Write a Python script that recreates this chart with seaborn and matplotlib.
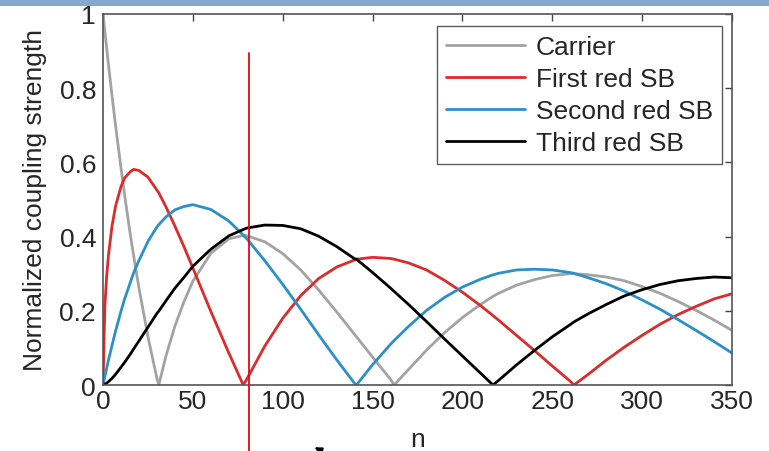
import pandas as pd
import seaborn as sns
import matplotlib.pyplot as plt
from matplotlib.patches import Rectangle

n = [0, 1, 2, 3, 5, 7, 10, 12, 15, 17, 20, 25, 30, 31, 35, 40, 45, 50, 60, 70, 78,
     80, 90, 100, 110, 120, 130, 140, 141, 150, 160, 162, 170, 180, 190, 200, 210,
     217, 220, 230, 240, 250, 260, 262, 270, 280, 290, 300, 310, 320, 330, 340, 350]

carrier = [1.0, .953, .908, .864, .779, .698, .584, .512, .411, .349, .261, .130,
           .017, 0.0, .078, .159, .224, .280, .355, .394, .403, .402, .386, .354,
           .310, .256, .197, .136, .130, .075, .015, 0.0, .042, .094, .141, .182,
           .217, .239, .247, .269, .284, .295, .300, .300, .297, .291, .281, .265,
           .247, .225, .201, .175, .147]

first_red = [0.0, .212, .292, .349, .429, .483, .535, .558, .574, .581, .578, .560,
             .525, .518, .480, .428, .373, .315, .198, .086, 0.0, .016, .105, .180,
             .241, .287, .318, .337, .339, .344, .341, .339, .329, .310, .282, .250,
             .214, .187, .175, .134, .093, .051, .010, 0.0, .029, .067, .102, .134,
             .164, .190, .212, .232, .246]

second_red = [0.0, .023, .045, .067, .107, .146, .199, .232, .274, .302, .336, .387,
              .426, .432, .453, .472, .481, .486, .473, .442, .404, .394, .335, .271,
              .204, .135, .068, .004, 0.0, .055, .110, .120, .158, .201, .236, .264,
              .285, .297, .301, .310, .312, .310, .303, .301, .289, .273, .253, .229,
              .204, .176, .147, .117, .086]

third_red = [0.0, .002, .005, .009, .018, .029, .048, .061, .082, .097, .119, .156,
             .193, .199, .227, .261, .290, .320, .366, .402, .419, .423, .431, .430,
             .421, .401, .373, .340, .339, .303, .261, .252, .217, .171, .124, .078,
             .032, 0.0, .012, .054, .093, .130, .163, .170, .192, .217, .240, .257,
             .271, .281, .287, .291, .289]

names = ["Carrier", "First red SB", "Second red SB", "Third red SB"]
colors = ["#a3a3a3", "#dc2b2b", "#2b90c8", "#000000"]
marker_n = 81

df = pd.DataFrame({"n": n, names[0]: carrier, names[1]: first_red,
                   names[2]: second_red, names[3]: third_red})
long = df.melt(id_vars="n", var_name="series", value_name="strength")

sns.set_style("white")
plt.rcParams["font.family"] = ["Liberation Sans", "DejaVu Sans"]
fs = 19

fig = plt.figure(figsize=(7.69, 4.52), dpi=100)
ax = fig.add_axes([0.134, 0.146, 0.818, 0.821])
sns.lineplot(data=long, x="n", y="strength", hue="series", hue_order=names,
             palette=colors, linewidth=2.0, ax=ax)

ax.set_xlim(0, 350)
ax.set_ylim(0, 1)
ax.set_xticks(range(0, 351, 50))
ax.set_yticks([0, 0.2, 0.4, 0.6, 0.8, 1])
ax.set_yticklabels(["0", "0.2", "0.4", "0.6", "0.8", "1"])
ax.tick_params(direction="in", top=True, right=True, length=5, width=1,
               color="#444444", labelsize=fs, pad=5)
ax.tick_params(axis="x", pad=3)
for s in ax.spines.values():
    s.set_color("#555555")
    s.set_linewidth(1.2)
ax.set_xlabel("n", fontsize=fs, labelpad=10)
ax.set_ylabel("Normalized coupling strength", fontsize=fs, labelpad=9)

leg = ax.legend(loc="upper right", fontsize=fs, frameon=True, fancybox=False,
                handlelength=3.0, handletextpad=0.4, borderpad=0.35,
                labelspacing=0.3, borderaxespad=0,
                bbox_to_anchor=(0.984, 0.968))
leg.get_frame().set_edgecolor("#333333")
leg.get_frame().set_linewidth(1.0)
for line in leg.get_lines():
    line.set_linewidth(2.0)

ax.plot([marker_n, marker_n], [0.895, -0.2], color="#dc0a1e", linewidth=1.3,
        clip_on=False, zorder=5)

fig.patches.append(Rectangle((0, 0.984), 1, 0.016, transform=fig.transFigure,
                             facecolor="#85a9cc", edgecolor="none"))
ax.annotate("", xy=(312, 5), xytext=(345, -12), xycoords="figure pixels",
            textcoords="figure pixels",
            arrowprops=dict(arrowstyle="-|>", color="black", lw=1.5))

fig.savefig("out.png", dpi=100)
